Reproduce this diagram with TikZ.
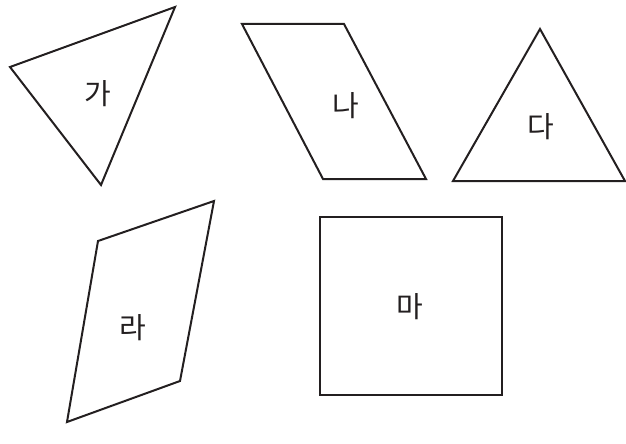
\documentclass[tikz,border=0pt]{standalone}
\usepackage{fontspec}
\newfontfamily\krfont{Noto Sans CJK KR}[Scale=1]
\definecolor{ink}{HTML}{231F20}
\begin{document}
\begin{tikzpicture}[x=1pt,y=-1pt,
  figline/.style={draw=ink,line width=2pt,line join=miter},
  lbl/.style={font=\krfont\fontsize{29}{29}\selectfont,text=ink,inner sep=0pt}]
\useasboundingbox (0,0) rectangle (626,444);
% 가
\draw[figline] (10,67) -- (175,7) -- (101,185) -- cycle;
\node[lbl] (ga) at (98,94) {가};
% 나
\draw[figline] (242,24) -- (344,24) -- (426,179) -- (323,179) -- cycle;
\node[lbl] (na) at (346,106) {나};
% 다
\draw[figline] (540,29) -- (625,181) -- (453,181) -- cycle;
\node[lbl] (da) at (541,127) {다};
% 라
\draw[figline] (98,241) -- (214,201) -- (180,381) -- (67,422) -- cycle;
\node[lbl] (ra) at (133,328) {라};
% 마
\draw[figline] (320,217) rectangle (502,395);
\node[lbl] (ma) at (410,307) {마};
\end{tikzpicture}
\end{document}
